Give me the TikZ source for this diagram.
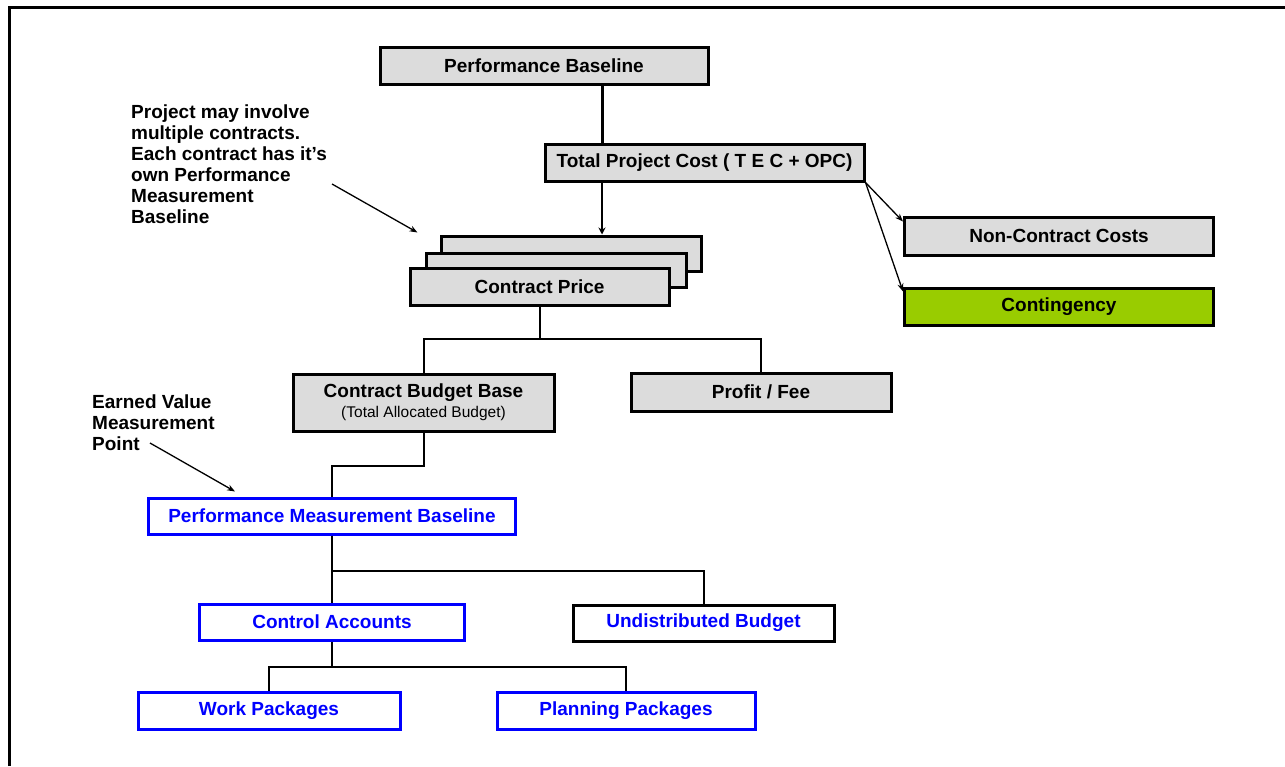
\documentclass[tikz,border=0pt]{standalone}
\usepackage{fontspec}
\setmainfont{Liberation Sans}
\usetikzlibrary{arrows.meta,calc}
\definecolor{boxgray}{RGB}{220,220,220}
\definecolor{contgreen}{RGB}{153,204,0}
\definecolor{pmbblue}{RGB}{0,0,255}
\tikzset{
  bigfont/.style={font=\bfseries\fontsize{19}{21}\selectfont},
  graybox/.style={draw, line width=3, fill=boxgray, bigfont, inner sep=0, text=black},
  bluebox/.style={draw=pmbblue, line width=3, fill=white, bigfont, inner sep=0, text=pmbblue},
  conn/.style={draw, line width=2},
  thinarrow/.style={draw, line width=1.3, -{Stealth[length=8,width=6]}},
  note/.style={bigfont, align=left, inner sep=0, anchor=north west}
}
\begin{document}
\begin{tikzpicture}[x=1pt,y=-1pt]
\useasboundingbox (0,0) rectangle (1285,766);
% frame
\draw[line width=3] (9,766) -- (9,7) -- (1285,7);

% nodes
\node[graybox, minimum width=328, minimum height=37] (pb) at (544,65.5) {Performance Baseline};
\node[graybox, minimum width=319, minimum height=37] (tpc) at (704.5,162.5) {Total Project Cost ( T E C + OPC)};
\node[graybox, minimum width=260, minimum height=35] (cp3) at (571,253.5) {};
\node[graybox, minimum width=260, minimum height=34] (cp2) at (556,270) {};
\node[graybox, minimum width=259, minimum height=37] (cp) at (539.5,287) {Contract Price};
\node[graybox, minimum width=309, minimum height=38] (nc) at (1059,236) {Non-Contract Costs};
\node[graybox, fill=contgreen, minimum width=309, minimum height=37] (cont) at (1059,306.5) {Contingency};
\node[graybox, minimum width=261, minimum height=57, align=center] (cbb) at (423.5,402.5)
  {Contract Budget Base\\[-1pt]{\mdseries\fontsize{15.5}{19}\selectfont (Total Allocated Budget)}};
\node[graybox, minimum width=260, minimum height=38] (pf) at (761,392) {Profit / Fee};
\node[bluebox, minimum width=367, minimum height=36] (pmb) at (332,516) {Performance Measurement Baseline};
\node[bluebox, minimum width=265, minimum height=36] (ca) at (332,622) {Control Accounts};
\node[bluebox, draw=black, minimum width=261, minimum height=36] (ub) at (703.5,623) {Undistributed Budget};
\node[bluebox, minimum width=262, minimum height=37] (wp) at (269,710.5) {Work Packages};
\node[bluebox, minimum width=258, minimum height=37] (pp) at (626,710.5) {Planning Packages};

% notes
\node[note] (n1) at (131,105) {Project may involve\\multiple contracts.\\Each contract has it's\\own Performance\\Measurement\\Baseline};
\node[note] (n2) at (92,395) {Earned Value\\Measurement\\Point};

% connectors
\draw[line width=3] ([xshift=58]pb.south) -- ([xshift=-102.5]tpc.north);
\draw[line width=2.2, -{Stealth[length=7,width=7]}] ([xshift=-102.5]tpc.south) -- ([xshift=31]cp3.north);
\draw[thinarrow] (tpc.south east) -- ([yshift=-6]nc.north west);
\draw[thinarrow] (tpc.south east) -- ([yshift=-5]cont.north west);

\draw[conn] (cp.south) -- ++(0,32) coordinate (b1);
\draw[conn] (cbb.north) |- (b1) -| (pf.north);
\draw[conn] (cbb.south) -- ++(0,33) -| (pmb.north);
\draw[conn] (pmb.south) -- (ca.north);
\draw[conn] (pmb.south) -- ++(0,35) -| (ub.north);
\draw[conn] (ca.south) -- ++(0,25) coordinate (b2);
\draw[conn] (wp.north) |- (b2) -| (pp.north);

% note arrows
\coordinate (a1) at (332,184);
\coordinate (a2) at (150,443);
\draw[thinarrow] (a1) -- ([xshift=-22,yshift=2]cp3.north west);
\draw[thinarrow] (a2) -- ([xshift=88,yshift=5]pmb.north west);
\end{tikzpicture}
\end{document}
